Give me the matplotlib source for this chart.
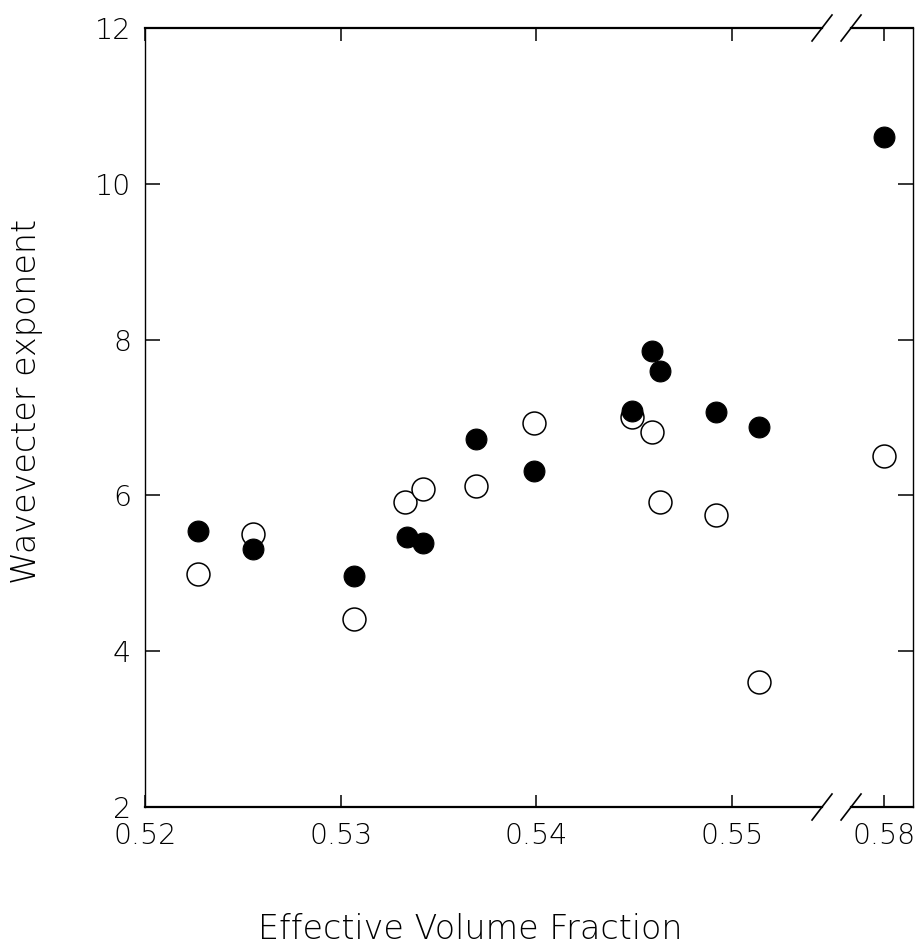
import matplotlib
matplotlib.use("Agg")
import matplotlib.pyplot as plt
import numpy as np

# measured exponents vs effective volume fraction
phi_open = [0.5227, 0.5255, 0.5307, 0.5333, 0.5342, 0.5369, 0.5399, 0.5449, 0.5459, 0.5463, 0.5492, 0.5514, 0.58]
exp_open = [4.99, 5.50, 4.41, 5.91, 6.08, 6.12, 6.93, 7.01, 6.81, 5.91, 5.75, 3.60, 6.50]
phi_fill = [0.5227, 0.5255, 0.5307, 0.5334, 0.5342, 0.5369, 0.5399, 0.5449, 0.5459, 0.5463, 0.5492, 0.5514, 0.58]
exp_fill = [5.54, 5.31, 4.97, 5.46, 5.39, 6.72, 6.31, 7.08, 7.85, 7.60, 7.07, 6.88, 10.60]

xticks = [0.52, 0.53, 0.54, 0.55, 0.58]
xticklabels = ["0.52", "0.53", "0.54", "0.55", "0.58"]
yticks = [2, 4, 6, 8, 10, 12]

# broken x axis: everything past the break is shifted left
LO, HI, SHIFT = 0.5555, 0.5778, 0.02225

def fwd(x):
    x = np.asarray(x, dtype=float)
    return np.where(x <= LO, x, np.where(x >= HI, x - SHIFT, LO))

def inv(u):
    u = np.asarray(u, dtype=float)
    return np.where(u <= LO, u, u + SHIFT)

plt.rcParams["font.family"] = "DejaVu Sans"
plt.rcParams["font.weight"] = "light"
plt.rcParams["axes.labelweight"] = "light"

fig = plt.figure(figsize=(9.23, 9.52), dpi=100)
ax = fig.add_axes([0.1571, 0.1523, 0.8321, 0.8183])
ax.set_xscale("function", functions=(fwd, inv))

ax.plot(phi_open, exp_open, "o", ms=16.5, mfc="white", mec="black", mew=1.1, ls="none")
ax.plot(phi_fill, exp_fill, "o", ms=15, mfc="black", mec="black", mew=0.8, ls="none")

ax.set_xlim(0.52, 0.5815)
ax.set_ylim(2, 12)
ax.set_xticks(xticks)
ax.set_xticklabels(xticklabels)
ax.set_yticks(yticks)
ax.minorticks_off()

ax.tick_params(axis="both", direction="in", top=True, right=True, width=1.1,
               labelsize=20.5, labelcolor="black")
ax.tick_params(axis="y", length=10.5, pad=10)
ax.tick_params(axis="x", length=9, pad=11)

for s in ["left", "right"]:
    ax.spines[s].set_linewidth(1.0)
ax.spines["top"].set_visible(False)
ax.spines["bottom"].set_visible(False)

# top/bottom spines drawn in two pieces with break marks
b1, b2 = 0.8815, 0.9193
dx, dy = 0.013, 0.0167
for yy in (0, 1):
    ax.plot([0, b1], [yy, yy], color="black", lw=1.6, transform=ax.transAxes, clip_on=False)
    ax.plot([b2, 1], [yy, yy], color="black", lw=1.6, transform=ax.transAxes, clip_on=False)
    for bx in (b1, b2):
        ax.plot([bx - dx, bx + dx], [yy - dy, yy + dy], color="black", lw=1.2,
                transform=ax.transAxes, clip_on=False)

ax.set_xlabel("Effective Volume Fraction", fontsize=24, fontweight="light")
ax.set_ylabel("Wavevecter exponent", fontsize=24, fontweight="light")
ax.xaxis.set_label_coords(0.423, -0.136)
ax.yaxis.set_label_coords(-0.133, 0.52)

fig.savefig("out.png", dpi=100)
